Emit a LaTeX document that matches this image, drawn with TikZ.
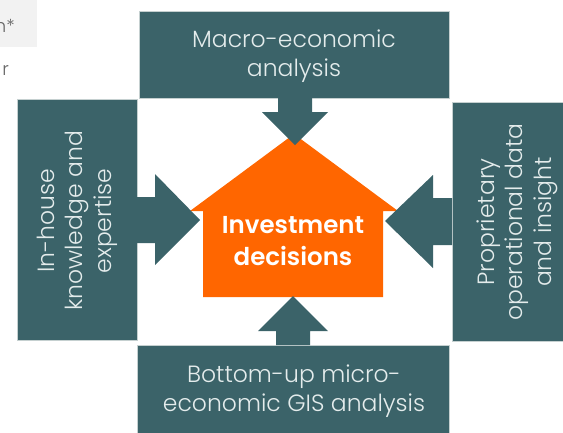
\documentclass[tikz,border=0pt]{standalone}
\usepackage{fontspec}
\setmainfont{Poppins}
\newfontfamily\lightfont{Poppins Light}
\newfontfamily\semifont{Poppins SemiBold}
\definecolor{teal1}{HTML}{3B6369}
\definecolor{orange1}{HTML}{FF6600}
\definecolor{txtlight}{HTML}{E4ECEC}
\definecolor{edge1}{HTML}{C5D0D0}
\begin{document}
\begin{tikzpicture}[x=1pt,y=-1pt,
  boxsty/.style={fill=teal1,draw=edge1,line width=0.6pt},
  boxtext/.style={text=txtlight,font=\lightfont\fontsize{23.5}{28.5}\selectfont,align=center,inner sep=0pt},
  arrowsty/.style={fill=teal1}]
\useasboundingbox (0,0) rectangle (563,432);
% clipped fragments at top left
\fill[gray!10] (0,0) rectangle (37,47);
\begin{scope}
\clip (0,0) rectangle (37,90);
\node[anchor=base east,text=gray!80!black,font=\lightfont\fontsize{18}{20}\selectfont,inner sep=0pt] (frag1) at (15,32) {n*};
\node[anchor=base east,text=gray!80!black,font=\lightfont\fontsize{18}{20}\selectfont,inner sep=0pt] (frag2) at (9,75) {r};
\end{scope}
% boxes
\draw[boxsty] (139,11) rectangle (449,98);
\draw[boxsty] (17,99) rectangle (137,340);
\draw[boxsty] (452,102) rectangle (566,341);
\draw[boxsty] (137,345) rectangle (449,436);
\node[boxtext] (top) at (294,56) {Macro-economic\\analysis};
\node[boxtext,rotate=90] (left) at (77,221) {In-house\\knowledge and\\expertise};
\node[boxtext,rotate=90] (right) at (517,222) {Proprietary\\operational data\\and insight};
\node[boxtext] (bottom) at (294,391) {Bottom-up micro-\\economic GIS analysis};
% house
\fill[orange1] (203,297) -- (203,211) -- (190,211) -- (294,134) -- (398,211) -- (383,211) -- (383,297) -- cycle;
\node[text=white,font=\semifont\fontsize{24.5}{32}\selectfont,align=center,inner sep=0pt] (center) at (293,241) {Investment\\decisions};
% arrows
\fill[arrowsty] (278,98) -- (312,98) -- (312,112) -- (328,112) -- (295,145) -- (262,112) -- (278,112) -- cycle;
\fill[arrowsty] (276,345) -- (310,345) -- (310,331) -- (328,331) -- (293,296) -- (258,331) -- (276,331) -- cycle;
\fill[arrowsty] (137,197) -- (155,197) -- (155,174) -- (200,220) -- (155,265) -- (155,243) -- (137,243) -- cycle;
\fill[arrowsty] (452,198) -- (433,198) -- (433,175) -- (385,221) -- (433,268) -- (433,245) -- (452,245) -- cycle;
\end{tikzpicture}
\end{document}
